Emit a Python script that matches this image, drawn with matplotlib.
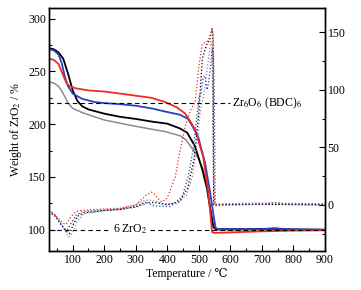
import numpy as np
import matplotlib.pyplot as plt
from matplotlib.ticker import MultipleLocator

plt.rcParams['font.family'] = ['Liberation Serif', 'DejaVu Serif']
plt.rcParams['mathtext.fontset'] = 'stix'

# TGA curves (left axis, weight of ZrO2 / %)
t_black = [25, 40, 55, 70, 85, 100, 115, 130, 150, 200, 250, 300, 350, 400, 440, 463, 488, 511, 526, 536, 546, 555, 650, 740, 800, 900]
w_black = [272, 271, 268, 262, 248, 232, 222, 217, 214, 210, 207, 205, 202.5, 200.5, 196, 192, 179, 157, 139, 120, 103, 100.5, 100.5, 101, 100.3, 100]

t_blue = [25, 40, 55, 65, 75, 85, 100, 130, 170, 200, 250, 300, 350, 393, 440, 466, 482, 498, 520, 536, 546, 553, 560, 700, 740, 780, 900]
w_blue = [271, 270, 266, 258, 245, 236, 229, 224, 221, 220, 219, 217.5, 215, 212, 209, 205, 197, 188, 163, 135, 115, 102, 100.5, 100.5, 101.5, 100.5, 100]

t_red = [25, 40, 55, 70, 80, 90, 110, 150, 200, 250, 300, 350, 393, 430, 457, 470, 488, 514, 530, 542, 548, 600, 700, 800, 900]
w_red = [262, 261, 257, 246, 239, 236, 234, 232, 231, 229, 227, 225, 221, 216, 210, 204, 195, 169, 136, 98, 97, 97.5, 98.5, 99.2, 99.5]

t_gray = [25, 40, 55, 70, 85, 100, 130, 200, 241, 300, 346, 393, 441, 460, 488, 500, 515, 527, 537, 546, 555, 900]
w_gray = [240, 239, 236, 229, 220, 215, 211, 204, 201.5, 198, 195.5, 193, 189, 185, 173, 167, 156, 139, 120, 102, 100, 100]

# DTG curves (right axis)
d_red_t = [25, 40, 55, 70, 78, 90, 105, 120, 150, 200, 250, 300, 320, 335, 350, 360, 375, 384, 400, 425, 441, 457, 473, 488, 500, 511, 520, 530, 542, 545, 547, 549, 600, 700, 800, 900]
d_red_v = [-4, -8, -12, -16, -17, -12, -7, -5, -4.5, -3.5, -3, 0, 5, 9, 11, 9, 4, 2.6, 6, 24, 48, 68, 82, 89, 120, 140, 141, 143, 152, 150, 40, 0.5, 1, 1.5, 1.2, 1]

d_blue_t = [25, 45, 60, 75, 82, 95, 110, 130, 200, 250, 300, 336, 360, 409, 447, 466, 482, 495, 502, 507, 514, 520, 526, 530, 536, 542, 546, 549, 552, 700, 742, 780, 900]
d_blue_v = [-6, -10, -16, -21, -22, -16, -9, -6, -4.5, -4, -2, 1.5, -1, -1.5, 7, 24, 48, 80, 95, 96, 111, 112, 100, 105, 117, 135, 132, 100, 0, 0.5, 2, 0.5, 0]

d_black_t = [25, 45, 65, 80, 90, 100, 115, 135, 200, 250, 300, 330, 360, 400, 440, 465, 485, 500, 511, 520, 526, 535, 542, 545, 547, 700, 900]
d_black_v = [-6, -10, -18, -23, -25, -18, -10, -7, -5, -4, -1.5, 2, 2, 0, 3, 15, 40, 80, 127, 135, 140, 144, 153, 145, 0, 0.5, 0]

d_gray_t = [25, 45, 65, 80, 88, 100, 115, 135, 200, 250, 300, 330, 352, 390, 430, 460, 480, 495, 504, 520, 530, 538, 542, 545, 548, 700, 900]
d_gray_v = [-5, -9, -17, -25, -28, -24, -14, -8, -5, -3.5, 0, 4, 4, 1, 1, 8, 25, 55, 80, 103, 126, 142, 138, 60, 0, 0.3, 0]

fs = 8.5

fig = plt.figure(figsize=(3.61, 2.90), dpi=100)
ax = fig.add_axes([0.136, 0.135, 0.764, 0.837])
ax2 = ax.twinx()

ax.plot(t_gray, w_gray, color='#8c8c8c', lw=1.1)
ax.plot(t_black, w_black, color='black', lw=1.3)
ax.plot(t_blue, w_blue, color='#2b3fc0', lw=1.3)
ax.plot(t_red, w_red, color='#f02828', lw=1.3)

ax2.plot(d_gray_t, d_gray_v, color='#8c8c8c', lw=0.9, ls=':')
ax2.plot(d_black_t, d_black_v, color='black', lw=0.9, ls=':')
ax2.plot(d_blue_t, d_blue_v, color='#2b3fc0', lw=0.9, ls=':')
ax2.plot(d_red_t, d_red_v, color='#f02828', lw=0.9, ls=':')

# reference levels
ax.plot([25, 600], [220, 220], color='black', lw=0.8, ls=(0, (4, 3)))
ax.text(606, 220, 'Zr$_6$O$_6$ (BDC)$_6$', fontsize=fs, va='center', ha='left')
ax.plot([25, 218], [100, 100], color='black', lw=0.8, ls=(0, (4, 3)))
ax.plot([345, 900], [100, 100], color='black', lw=0.8, ls=(0, (4, 3)))
ax.text(228, 100, '6 ZrO$_2$', fontsize=fs, va='center', ha='left')

ax.set_xlim(25, 900)
ax.set_ylim(80, 310)
ax2.set_ylim(-40, 171)

ax.xaxis.set_major_locator(MultipleLocator(100))
ax.xaxis.set_minor_locator(MultipleLocator(50))
ax.yaxis.set_major_locator(MultipleLocator(50))
ax.yaxis.set_minor_locator(MultipleLocator(25))
ax2.yaxis.set_major_locator(MultipleLocator(50))
ax2.yaxis.set_minor_locator(MultipleLocator(25))

ax.tick_params(which='both', direction='in', labelsize=fs, top=False, width=0.8, pad=2)
ax.tick_params(which='major', length=4)
ax.tick_params(which='minor', length=2.5)
ax2.tick_params(which='both', direction='in', labelsize=fs, width=0.8, pad=2)
ax2.tick_params(which='major', length=4)
ax2.tick_params(which='minor', length=2.5)

for a in (ax, ax2):
    for s in a.spines.values():
        s.set_linewidth(1.0)

ax.set_xlabel('Temperature / ℃', fontsize=fs, labelpad=2)
ax.set_ylabel('Weight of ZrO$_2$ / %', fontsize=fs, labelpad=3)

fig.savefig('out.png', dpi=100)
